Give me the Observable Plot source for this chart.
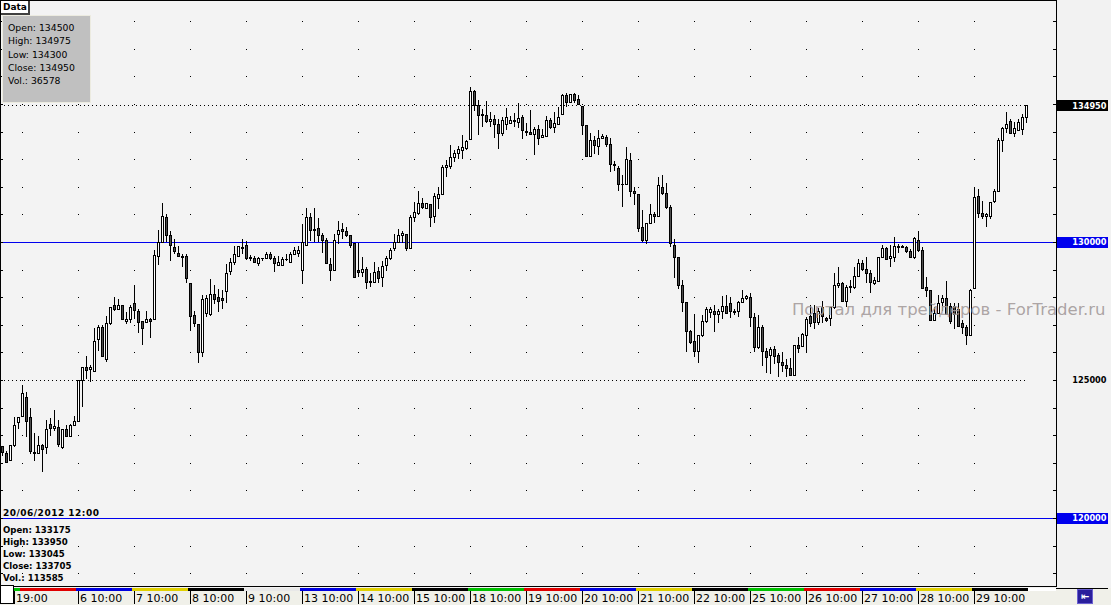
<!DOCTYPE html>
<html><head><meta charset="utf-8">
<script src="https://cdn.jsdelivr.net/npm/d3@7"></script>
<script src="https://cdn.jsdelivr.net/npm/@observablehq/plot@0.6"></script>
<style>
body{margin:0;background:#f2f2f2;}
#wrap{position:relative;width:1111px;height:605px;overflow:hidden;font-family:"DejaVu Sans",sans-serif;}
#wrap svg{position:absolute;left:0;top:0;}
.ov{position:absolute;box-sizing:border-box;}
#tab{left:1px;top:1px;width:29px;height:14px;background:#fff;border-right:2px solid #404040;border-bottom:2px solid #404040;font:bold 9px "DejaVu Sans";padding:1px 0 0 2px;color:#000;}
#info{left:2px;top:15px;width:89px;height:88px;background:#c0c0c0;border:1px solid #ecebe0;font:9.3px "DejaVu Sans";line-height:13.3px;padding:5px 0 0 5px;color:#000;white-space:pre;}
#hover{left:3px;top:507px;font:bold 8.6px "DejaVu Sans";color:#000;white-space:pre;line-height:12px;}
#hover .d{display:block;margin-bottom:5px;font-size:9px;letter-spacing:0.5px;}
#wbox{left:0;top:585px;width:14px;height:19px;background:#fff;border:1px solid #000;}
#icon{left:1077px;top:589px;width:16px;height:15px;background:#2a1f9c;border:1px solid #6a5fd0;color:#fff;font:bold 10px "DejaVu Sans";text-align:center;line-height:13px;}
#rline{left:1056px;top:588px;width:52px;height:1px;background:#000;}
</style></head><body><div id="wrap"></div>
<script>
const open=[122585,122355,122075,122635,123455,123670,124350,123625,122390,122345,122610,122560,123405,123235,123285,122550,123190,122970,123360,123505,125000,125460,125390,125315,126475,126885,125725,127055,127705,127560,127705,127130,127200,127780,127490,127130,127075,127175,127200,129465,130000,130870,130245,129810,129590,129490,129490,128505,127320,127020,125990,127415,127390,128115,127995,127945,128190,128925,129275,129465,129755,129880,129445,129420,129230,129420,129420,129555,129410,129155,129155,129350,129275,129555,129590,128960,129880,130895,130410,130495,130245,130045,129180,128985,130280,130460,130390,130245,129955,128960,128890,129020,128560,128525,128915,128720,129140,129410,129770,130000,130245,130255,129770,130895,131040,131400,131205,131365,130915,131580,131705,132705,132730,133070,133215,133310,133395,133720,135460,134955,134610,134590,134360,134445,134275,133940,134275,134300,134395,134325,134520,134020,133985,133890,134060,133795,133815,134420,134140,134275,134610,135290,135045,135360,135145,134925,134205,133090,133695,133455,133765,133795,133550,132825,132670,132100,132090,132970,131835,131730,130535,130045,130680,130980,130915,131980,131765,131255,129880,129445,128430,127815,126760,126405,126025,126620,127115,127440,127465,127365,127490,127680,127755,127490,127490,127800,127945,127995,127270,126185,126910,126040,125870,126115,125895,125650,125510,125425,125180,126235,126205,126620,127295,127415,127100,127635,127220,127220,127610,128430,128505,127850,128335,128360,128745,129205,129010,128865,128505,128580,129445,129770,129410,129445,129785,129830,129810,129640,129445,130045,129710,128360,128260,127150,127415,127825,127970,127680,127680,127560,127030,126910,126620,128320,131665,131040,130940,130915,131460,131835,133670,134120,134350,133940,134035,134060,134500];
const high=[122625,122430,122640,123660,123670,124820,124575,123985,123080,122970,122680,123550,123625,123915,123550,123225,123370,123405,123695,125005,125465,125870,125545,126885,126985,126985,127320,127655,128020,127945,127710,127465,127705,128430,127560,127135,127490,127245,129710,130435,131425,131015,130390,130120,129855,129565,129565,128510,127510,127025,128070,128070,128660,128430,128300,128260,129205,129420,129865,129860,130120,130025,129520,129490,129465,129420,129640,129640,129490,129490,129465,129565,129640,129810,129855,130650,131220,131060,131220,130860,130315,130135,129420,130290,130760,130700,130535,130250,129960,129975,129465,129105,128865,129285,129105,129325,129490,129785,130290,130460,130410,130260,130990,131460,131850,131585,131405,131370,131765,132005,132790,132970,133515,133335,133480,133875,133695,135625,135505,135145,134810,135120,134710,134590,134445,134520,134855,134565,134665,135045,134610,134325,134785,134180,134240,134085,134565,134505,134710,134880,135360,135410,135365,135410,135325,134930,134210,133960,133840,134060,133915,133890,133755,132925,132755,132430,133430,133215,132005,131735,131160,130685,131375,131100,132345,132430,132125,131330,130100,129450,128625,127820,126810,127390,126625,127345,127655,127655,127730,127560,128045,128090,128020,127570,127875,128260,128080,128165,127440,127345,126985,126160,126185,126235,125990,126015,125750,125795,126270,126570,126690,127295,127705,127705,127600,127850,127290,127655,128865,129085,128550,128430,128625,129105,129375,129350,129445,128985,128745,129450,129880,129830,129890,130190,129930,129880,129855,129735,130190,130410,129810,128720,128265,127655,128070,128070,128575,127780,127780,127800,127175,126985,128310,132005,131930,131475,131060,131430,131910,133755,134180,134710,134445,134350,134470,134640,134975];
const low=[122260,122000,122070,122585,123225,123665,122925,122320,122075,122340,121680,122320,122970,123165,122560,122510,122925,122925,123355,123500,124035,125025,124940,125310,126060,125840,125665,126985,127510,127555,127195,127030,127055,127200,126715,126280,127070,126520,127195,129180,129995,130000,129325,129565,129460,129105,128525,126785,126910,125625,125845,127295,127320,127755,127475,127585,127800,128815,129165,129460,129565,129350,129300,129225,129130,129300,129415,129350,128925,129150,129150,129325,129270,129550,129465,128480,129875,130045,130010,130010,129590,129200,128575,128980,129930,130100,130170,129795,128715,128745,128745,128310,128360,128520,128505,128380,128960,129350,129685,129975,129955,129685,129735,130735,130965,131185,131200,130555,130700,131185,131700,132365,132635,132900,133020,133020,133335,133715,134755,133890,134180,134300,134180,133755,133360,133840,134060,134275,134180,134120,133720,133840,133880,133150,133505,133755,133810,134085,133940,134270,134605,134900,135040,135045,134955,133875,133090,133070,133190,133150,133720,133455,132535,132585,131860,131255,132085,131640,131340,130375,129995,129930,130640,130680,130895,131705,131205,129830,128685,128310,127465,126025,126305,125825,125625,126545,127075,127235,126750,127055,127200,127410,127235,127355,127295,127780,127900,126910,126025,126135,125510,125265,125220,125580,125100,125290,125100,125145,125145,125990,126185,126025,126930,126840,127000,127050,127100,126955,127560,128335,127825,127655,128165,128310,128720,128935,128525,128140,128455,128575,129410,129350,129085,129285,129615,129780,129590,129420,129375,129650,128305,128020,127145,127120,127390,127490,127360,127030,126860,126930,126665,126260,126615,128310,130860,130845,130535,130820,131425,131830,133270,133940,133915,133815,134010,133875,134300];
const close=[122365,122005,122635,123335,123650,124520,123490,122405,122320,122610,122490,123215,123250,123310,122645,123215,122970,123335,123505,125000,125460,125335,125460,126405,126885,125845,127030,127610,127560,127705,127200,127200,127635,127510,127075,126860,127175,127130,129520,130000,130940,130220,129880,129665,129465,129445,128685,127295,127055,125990,127900,127970,128115,127900,127840,127875,128865,129275,129555,129855,129810,129395,129395,129250,129410,129395,129565,129395,129230,129275,129350,129375,129565,129675,129675,129990,130895,130410,130460,130220,130045,129205,128985,130045,130410,130390,130245,129880,128720,128890,129010,128525,128525,128890,128670,129130,129410,129710,129975,130220,130290,129770,130870,131075,131400,131255,131400,130880,131665,131730,132705,132755,133070,133215,133360,133430,133650,135460,134955,134590,134590,134360,134445,134250,133940,134395,134520,134395,134370,134480,134035,133960,133890,134060,133745,133875,134420,134140,134300,134520,135290,135045,135360,135120,134975,134205,133115,133695,133480,133755,133815,133540,132815,132765,132090,132080,132995,131835,131765,130495,130045,130680,130980,130940,132030,131740,131255,129955,129445,128430,127825,126750,126350,126025,126620,127125,127560,127560,127365,127490,127680,127415,127490,127440,127825,127970,128020,127270,126185,126910,126025,125825,126115,125845,125625,125535,125410,125180,126235,126150,126640,127200,127030,127100,127465,127295,127150,127610,128430,128480,127850,128360,128385,128745,129230,129010,128865,128525,128590,129445,129770,129375,129490,129855,129830,129810,129640,129445,130135,129710,128310,128235,127150,127415,127780,127945,127365,127115,127390,126955,126910,126620,128260,131620,131040,130940,130980,131425,131835,133670,134120,134275,133940,134105,134325,134495,134950];

const priceTicks=[118000,119000,120000,121000,122000,123000,124000,125000,126000,127000,128000,129000,130000,131000,132000,133000,134000,135000,136000,137000,138000];
const gridBars=[5,19,33,47,61,75,89,103,117,131,145,159,173,187,201,215,229,243];
const levelLines=[130000,120000];
const dottedLines=[134950,125000];
const lastPrice=[134950];
const plainLabels=[125000];
const dayLabels=["19:00","6 10:00","7 10:00","8 10:00","9 10:00","13 10:00","14 10:00","15 10:00","18 10:00","19 10:00","20 10:00","21 10:00","22 10:00","25 10:00","26 10:00","27 10:00","28 10:00","29 10:00"];
const dayTicks=[3,19,33,47,61,75,89,103,117,131,145,159,173,187,201,215,229,243];
const segStarts=[0,5,19,33,47,61,75,89,103,117,131,145,159,173,187,201,215,229,243,257];
const segColors=["#00c000","#e00000","#0000e0","#e0d000","#000000","#e8e8e8","#0000e0","#e0d000","#000000","#00c000","#e00000","#0000e0","#e0d000","#000000","#00c000","#e00000","#0000e0","#e0d000","#000000","#ffffff"];
const watermark="Портал для трейдеров - ForTrader.ru";

const bars=open.map((o,i)=>({i,open:o,high:high[i],low:low[i],close:close[i]}));
const gridPts=gridBars.flatMap(i=>priceTicks.map(v=>({i,v})));
const days=dayLabels.map((label,k)=>({label,t:dayTicks[k]}));
const segs=segStarts.map((s,k)=>({s,e:k+1<segStarts.length?segStarts[k+1]:264,c:segColors[k]}));
const blue="#0000ee";

const W=1111,H=605;
const chart=Plot.plot({
  width:W,height:H,margin:0,
  x:{type:"linear",domain:[0,256],range:[2,1026],axis:null},
  y:{type:"linear",domain:[120000,130000],range:[518,242],axis:null},
  style:{background:"#f2f2f2",overflow:"hidden"},
  marks:[
    Plot.frame({fill:"#f0f0e9",stroke:"none",insetTop:587}),
    Plot.frame({fill:"#f3f3f3",stroke:"none",insetRight:55,insetBottom:19}),
    Plot.dot(gridPts,{x:"i",y:"v",symbol:"square",r:0.57,fill:"black",stroke:"none"}),
    Plot.ruleY(dottedLines,{stroke:"black",strokeDasharray:"1,3",insetRight:W-1028}),
    Plot.ruleY(levelLines,{stroke:blue,insetRight:55}),
    Plot.ruleX(bars,{x:"i",y1:"low",y2:"high",stroke:"black"}),
    Plot.rect(bars,{x1:d=>d.i-0.25,x2:d=>d.i+0.25,y1:"open",y2:"close",fill:d=>d.close>=d.open?"white":"#4d4d4d",stroke:"black"}),
    Plot.text([watermark],{text:d=>d,frameAnchor:"top-right",dx:-6,dy:303,fontSize:16.5,fill:"#a39a9a",fillOpacity:0.9,fontFamily:"DejaVu Sans"}),
    Plot.frame({stroke:"black",insetRight:55,insetBottom:19}),
    Plot.ruleY(priceTicks,{stroke:"black",insetRight:W-3}),
    Plot.ruleY(priceTicks,{stroke:"black",insetLeft:1053,insetRight:55}),
    Plot.ruleY(lastPrice,{stroke:"black",strokeWidth:11,insetLeft:1057,insetRight:3}),
    Plot.ruleY(levelLines,{stroke:blue,strokeWidth:11,insetLeft:1057,insetRight:3}),
    Plot.text(lastPrice.concat(levelLines),{y:d=>d,text:d=>String(d),frameAnchor:"right",dx:-5,fill:"white",fontWeight:"bold",fontSize:8.2,fontFamily:"DejaVu Sans"}),
    Plot.text(plainLabels,{y:d=>d,text:d=>String(d),frameAnchor:"right",dx:-5,fill:"black",fontWeight:"bold",fontSize:8.2,fontFamily:"DejaVu Sans"}),
    Plot.rect(segs,{x1:d=>d.s-0.5,x2:d=>d.e-0.5,fill:d=>d.c,insetTop:587.5,insetBottom:14.5}),
    Plot.ruleX(days,{x:"t",stroke:"black",insetTop:591,insetBottom:1}),
    Plot.text(days,{x:"t",text:"label",frameAnchor:"bottom",textAnchor:"start",lineAnchor:"middle",dx:1.5,dy:-7.5,fontSize:11,fill:"black",fontFamily:"DejaVu Sans"})
  ]
});
chart.setAttribute("shape-rendering","crispEdges");
chart.querySelectorAll("text").forEach(t=>t.setAttribute("shape-rendering","auto"));
const wrap=document.getElementById("wrap");
wrap.appendChild(chart);
const add=(id,html)=>{const d=document.createElement("div");d.className="ov";d.id=id;d.innerHTML=html;wrap.appendChild(d);};
add("info","Open: 134500\nHigh: 134975\nLow: 134300\nClose: 134950\nVol.: 36578");
add("tab","Data");
add("hover",'<span class="d">20/06/2012 12:00</span>Open: 133175\nHigh: 133950\nLow: 133045\nClose: 133705\nVol.: 113585');
add("wbox","");
add("rline","");
add("icon","&#8676;");
</script></body></html>
